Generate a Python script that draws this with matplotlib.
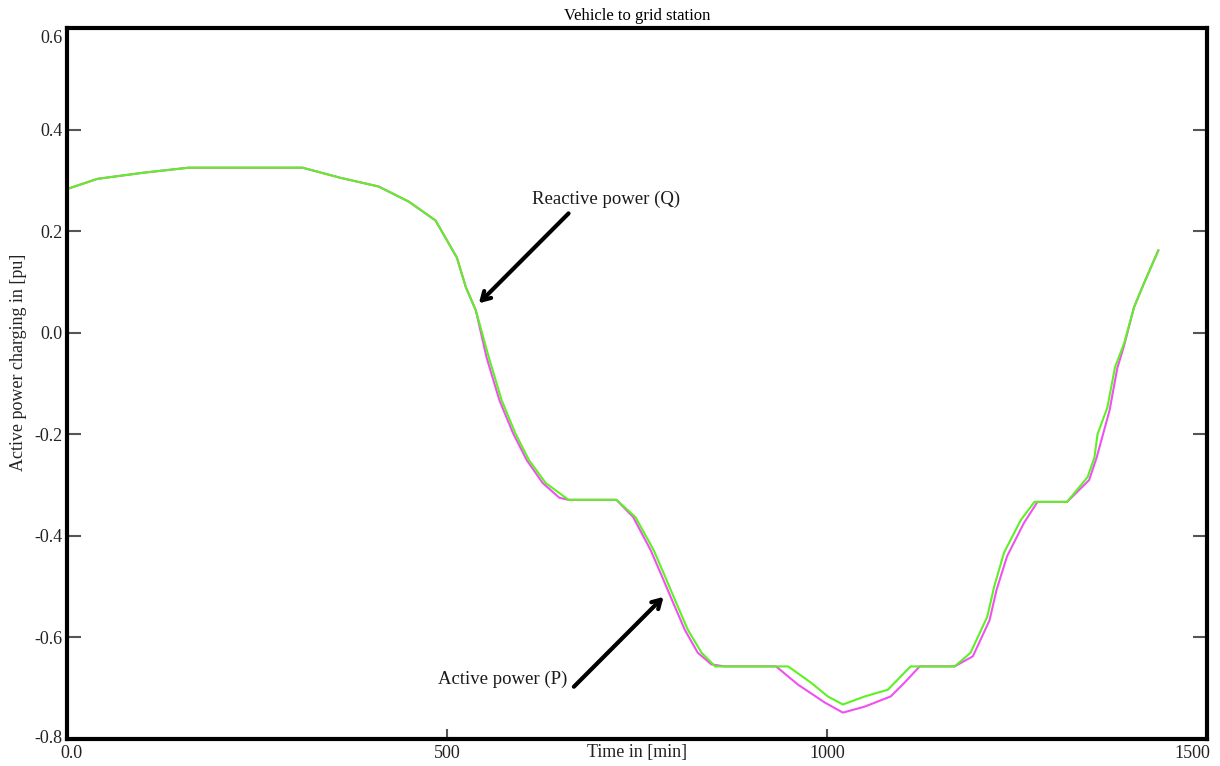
import matplotlib
matplotlib.use('Agg')
import matplotlib.pyplot as plt
import matplotlib.transforms as mtransforms

plt.rcParams['font.family'] = ['Liberation Serif', 'DejaVu Serif']

# Reactive power Q [pu] against time [min]
t_q = [0, 40, 100, 160, 310, 360, 410, 450, 485, 513, 525, 538, 555, 572, 590,
       608, 630, 660, 723, 748, 772, 787, 800, 817, 835, 853, 949, 979, 1001,
       1021, 1050, 1080, 1097, 1110, 1168, 1189, 1211, 1220, 1233, 1255, 1273,
       1316, 1343, 1352, 1356, 1369, 1379, 1391, 1404, 1417, 1436]
q = [0.283, 0.303, 0.315, 0.325, 0.325, 0.305, 0.288, 0.258, 0.221, 0.148,
     0.089, 0.044, -0.048, -0.133, -0.198, -0.251, -0.296, -0.329, -0.329,
     -0.363, -0.428, -0.480, -0.526, -0.585, -0.630, -0.657, -0.657, -0.689,
     -0.716, -0.732, -0.716, -0.703, -0.677, -0.657, -0.657, -0.630, -0.559,
     -0.500, -0.433, -0.369, -0.333, -0.333, -0.284, -0.245, -0.200, -0.147,
     -0.068, -0.021, 0.050, 0.097, 0.162]

# Active power P [pu] against time [min]
t_p = [0, 40, 100, 160, 310, 360, 410, 450, 485, 513, 525, 538, 552, 569, 587,
       605, 626, 648, 660, 723, 745, 768, 783, 796, 813, 830, 848, 865, 933,
       962, 997, 1021, 1050, 1084, 1102, 1122, 1168, 1192, 1214, 1223, 1237,
       1259, 1277, 1316, 1345, 1355, 1372, 1382, 1391, 1404, 1417, 1436]
p = [0.283, 0.303, 0.315, 0.325, 0.325, 0.305, 0.288, 0.258, 0.221, 0.148,
     0.089, 0.044, -0.048, -0.133, -0.198, -0.251, -0.296, -0.325, -0.329,
     -0.329, -0.363, -0.428, -0.480, -0.526, -0.585, -0.630, -0.653, -0.657,
     -0.657, -0.693, -0.728, -0.748, -0.736, -0.716, -0.689, -0.657, -0.657,
     -0.637, -0.566, -0.507, -0.440, -0.375, -0.333, -0.333, -0.290, -0.245,
     -0.152, -0.070, -0.025, 0.050, 0.097, 0.162]

xticks = [0, 500, 1000, 1500]
xtick_labels = ['0.0', '500', '1000', '1500']
yticks = [-0.8, -0.6, -0.4, -0.2, 0.0, 0.2, 0.4, 0.6]

fig = plt.figure(figsize=(12.2, 7.66), dpi=100)
ax = fig.add_axes([0.0549, 0.0352, 0.9344, 0.9282])

ax.plot(t_p, p, color='#f050f0', lw=1.5)
ax.plot(t_q, q, color='#5ef024', lw=1.5)

ax.set_xlim(0, 1500)
ax.set_ylim(-0.8, 0.6)
ax.set_xticks(xticks)
ax.set_xticklabels(xtick_labels)
ax.set_yticks(yticks)
ax.set_yticklabels(['%.1f' % v for v in yticks])

ax.tick_params(axis='both', direction='in', length=7, width=1.5,
               color='#555555', labelsize=13, labelcolor='#222222', pad=3)
ax.tick_params(axis='y', right=True, length=10)
ax.tick_params(axis='x', pad=4)

# keep the end labels clear of each other and of the frame
def nudge(label, dx, dy):
    label.set_transform(label.get_transform() +
                        mtransforms.ScaledTranslation(dx / 100, dy / 100,
                                                      fig.dpi_scale_trans))

xl = ax.get_xticklabels()
yl = ax.get_yticklabels()
nudge(xl[0], 4, 0)
xl[-1].set_horizontalalignment('right')
nudge(xl[-1], 3, 0)
nudge(yl[0], 0, 3)
nudge(yl[-1], 0, -8)

for s in ax.spines.values():
    s.set_linewidth(3)
    s.set_color('black')

ax.set_title('Vehicle to grid station', fontsize=12, pad=6)
ax.set_xlabel('Time in [min]', fontsize=13, color='#222222')
ax.xaxis.set_label_coords(0.5, -0.007)
ax.set_ylabel('Active power charging in [pu]', fontsize=13, color='#222222')
ax.yaxis.set_label_coords(-0.035, 0.53)

arrow = dict(arrowstyle='->,head_length=0.6,head_width=0.35', lw=3,
             color='black', shrinkA=0, shrinkB=0)
ax.annotate('', xy=(542, 0.058), xytext=(660, 0.235), arrowprops=arrow)
ax.text(709, 0.262, 'Reactive power (Q)', fontsize=13.5, ha='center',
        va='center', color='#1a1a1a')
ax.annotate('', xy=(785, -0.52), xytext=(667, -0.697), arrowprops=arrow)
ax.text(573, -0.683, 'Active power (P)', fontsize=13.5, ha='center',
        va='center', color='#1a1a1a')

fig.savefig('out.png', dpi=100)
